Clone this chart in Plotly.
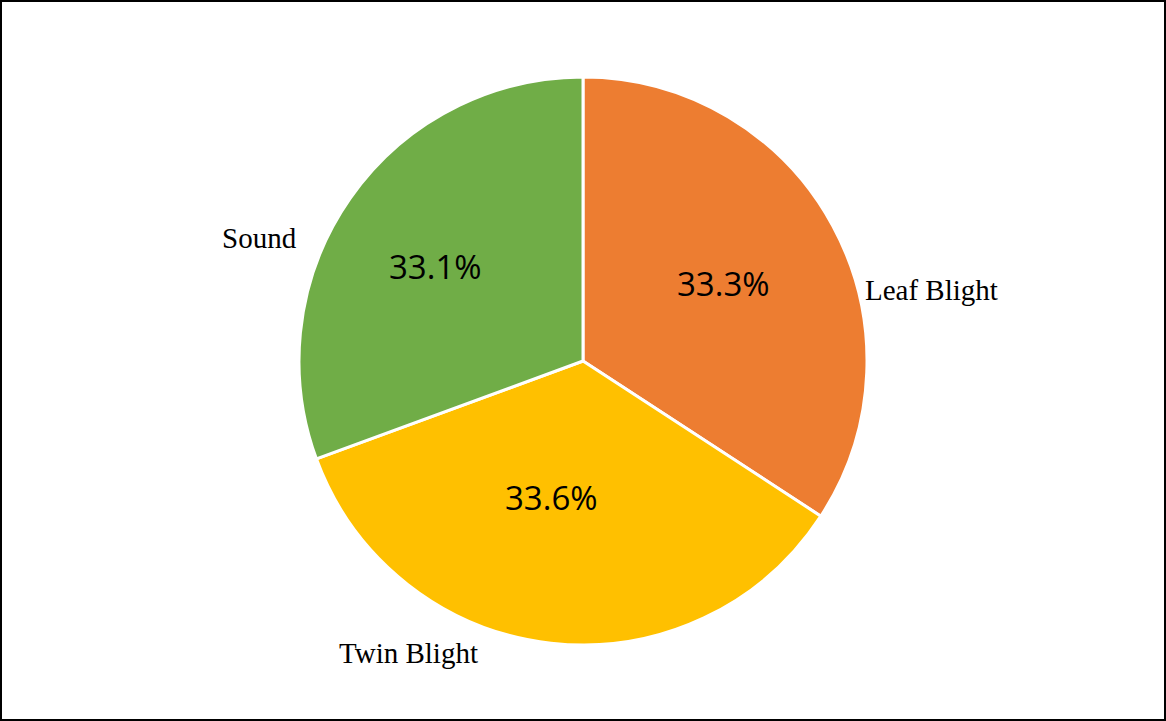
import plotly.graph_objects as go

categories = ["Leaf Blight", "Twin Blight", "Sound"]
# slice sizes as drawn in the picture (share of the circle)
values = [34.2, 35.2, 30.6]
# percentage labels as printed on the slices
percent_labels = ["33.3%", "33.6%", "33.1%"]
colors = ["#ED7D31", "#FFC000", "#70AD47"]

W, H = 1166, 721
cx, cy, r = 583, 361, 284

fig = go.Figure(go.Pie(
    labels=categories,
    values=values,
    sort=False,
    direction="clockwise",
    rotation=0,
    marker=dict(colors=colors, line=dict(color="white", width=3)),
    textinfo="none",
    showlegend=False,
    hovertext=percent_labels,
    hoverinfo="label+text",
    domain=dict(x=[(cx - r) / W, (cx + r) / W], y=[(H - cy - r) / H, (H - cy + r) / H]),
))

# percentage labels inside slices (page pixel positions)
pct_pos = [(723, 283), (551, 497), (435, 266)]
for txt, (px, py) in zip(percent_labels, pct_pos):
    fig.add_annotation(
        x=px / W, y=1 - py / H, xref="paper", yref="paper",
        text=txt, showarrow=False, xanchor="center", yanchor="middle",
        font=dict(family="Open Sans", size=33, color="black"),
    )

# outside category labels
label_pos = [(931, 290), (408, 653), (259, 238)]
for name, (px, py) in zip(categories, label_pos):
    fig.add_annotation(
        x=px / W, y=1 - py / H, xref="paper", yref="paper",
        text=name, showarrow=False, xanchor="center", yanchor="middle",
        font=dict(family="Liberation Serif", size=29, color="black"),
    )

fig.add_shape(type="rect", xref="paper", yref="paper",
              x0=1 / W, y0=1 / H, x1=1 - 1 / W, y1=1 - 1 / H,
              line=dict(color="black", width=2))

fig.update_layout(
    width=W, height=H,
    margin=dict(l=0, r=0, t=0, b=0),
    paper_bgcolor="white",
    plot_bgcolor="white",
)

fig.write_html("out.html")
